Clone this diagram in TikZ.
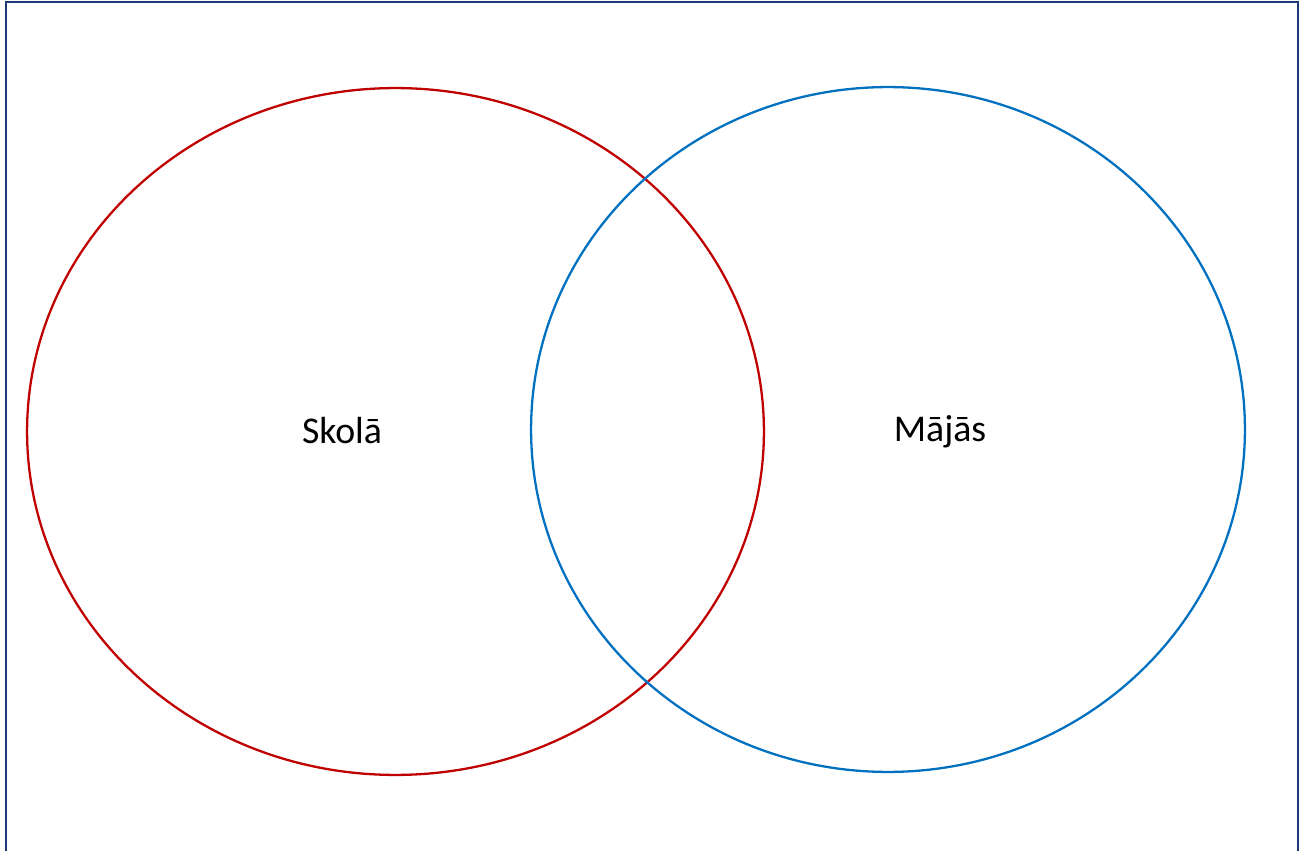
\documentclass[tikz,border=0pt]{standalone}
\usepackage{fontspec}
\setmainfont{Carlito}
\usepackage{xcolor}
\usetikzlibrary{shapes.geometric}

\definecolor{setred}{HTML}{C00000}
\definecolor{setblue}{HTML}{0070C0}
\definecolor{framebl}{HTML}{1F3A7A}

\begin{document}
\begin{tikzpicture}[x=0.02cm, y=-0.02cm, every node/.style={font=\fontsize{21.5}{26}\selectfont},
    setcircle/.style={draw, ellipse, line width=1.3pt, inner sep=0pt, outer sep=0pt}]
  \useasboundingbox (0,0) rectangle (1306,851);
  % frame round the page, open at the bottom
  \draw[framebl, line width=1.2pt] (6,860) -- (6,2) -- (1298,2) -- (1298,860);
  \node[setcircle, setred, minimum width=14.74cm, minimum height=13.74cm] (skola) at (395.5,431.5) {};
  \node[setcircle, setblue, minimum width=14.28cm, minimum height=13.70cm] (majas) at (888,429.5) {};
  \node[anchor=base] (skolalbl) at (342,443.5) {Skolā};
  \node[anchor=base] (majaslbl) at (940,441) {Mājās};
\end{tikzpicture}
\end{document}
